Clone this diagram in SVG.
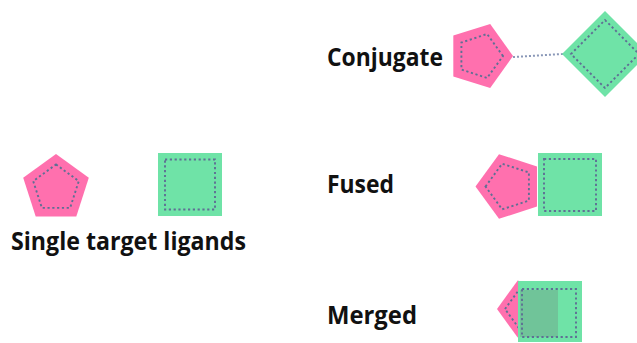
<svg xmlns="http://www.w3.org/2000/svg" width="637" height="343" viewBox="0 0 637 343">
<style>
.pink{fill:#ff70ae}
.green{fill:#6fe3a7}
.inner{fill:none;stroke:#5f6f94;stroke-width:1.9;stroke-dasharray:2.2 2.6}
.lbl{font-family:"Open Sans","Liberation Sans",sans-serif;font-weight:700;font-size:25px;fill:#111}
</style>
<rect width="637" height="343" fill="#fff"/>
<g id="single-pentagon">
<polygon class="pink" points="56,154 88.8,177.8 76.3,216.4 35.7,216.4 23.2,177.8"/>
<polygon class="inner" points="56,164.5 78.8,181.1 70.1,207.9 41.9,207.9 33.2,181.1"/>
</g>
<g id="single-square">
<rect class="green" x="158" y="153" width="64" height="63"/>
<rect class="inner" x="165" y="159.5" width="50" height="50"/>
</g>
<g id="label-single"><text class="lbl" x="11" y="250" textLength="235" lengthAdjust="spacingAndGlyphs">Single target ligands</text></g>
<g id="label-conjugate"><text class="lbl" x="327" y="66" textLength="116" lengthAdjust="spacingAndGlyphs">Conjugate</text></g>
<g id="label-fused"><text class="lbl" x="327" y="193" textLength="67" lengthAdjust="spacingAndGlyphs">Fused</text></g>
<g id="label-merged"><text class="lbl" x="327" y="324" textLength="90" lengthAdjust="spacingAndGlyphs">Merged</text></g>
<g id="connectors">
<line x1="513" y1="57" x2="563" y2="54" stroke="#8a98b8" stroke-width="2" stroke-dasharray="2 2"/>
</g>
<g id="conjugate-pentagon">
<polygon class="pink" points="513,56 490.2,24 453.3,35.5 453.3,76.5 490.2,88"/>
<polygon class="inner" points="503,56 487.1,34 461.4,42.5 461.4,69.5 487.1,78"/>
</g>
<g id="conjugate-diamond">
<polygon class="green" points="605,11 648,54 605,97 562,54"/>
<polygon class="inner" points="605,20 639,54 605,88 571,54"/>
</g>
<g id="fused">
<polygon class="pink" points="475.5,186.5 499,154.2 537,166.5 537,206.5 499,218.8"/>
<polygon class="inner" points="485.5,186.5 502.1,163.7 528.9,172.4 528.9,200.6 502.1,209.3"/>
<rect class="green" x="538" y="153" width="64" height="63"/>
<rect class="inner" x="544" y="159" width="52" height="52"/>
</g>
<g id="merged">
<polygon class="pink" points="497,309 517.7,280.5 551.3,291.4 551.3,326.6 517.7,337.5"/>
<polygon class="inner" points="505,309 520.2,288.1 544.8,296.1 544.8,321.9 520.2,329.9"/>
<rect class="green" x="518" y="281" width="64" height="61"/>
<rect x="520" y="290" width="38" height="47" fill="#70c499"/>
<rect class="inner" x="522" y="289" width="54" height="48"/>
</g>
</svg>
